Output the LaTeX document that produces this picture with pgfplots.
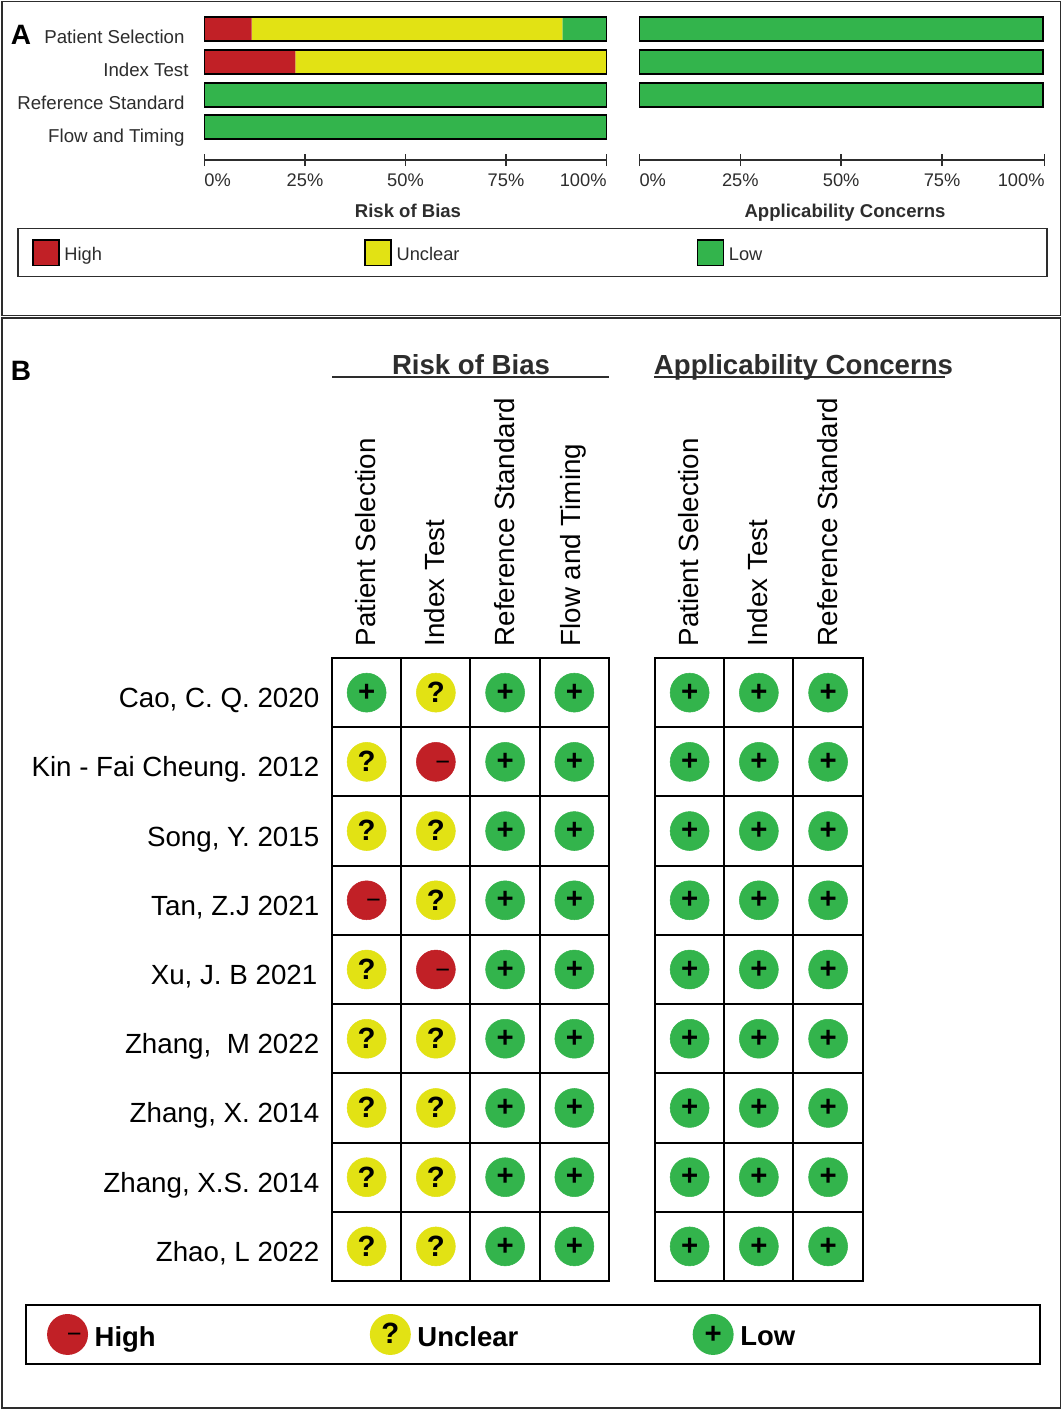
\documentclass[border=0pt]{standalone}
\usepackage{fontspec}
\setmainfont{Liberation Sans}
\usepackage{pgfplots}
\pgfplotsset{compat=1.18}
\definecolor{robred}{RGB}{193,32,38}
\definecolor{robyellow}{RGB}{226,226,20}
\definecolor{robgreen}{RGB}{51,180,76}
\definecolor{ink}{RGB}{45,45,45}
\def\px{0.75pt}
\newcommand{\fs}[1]{\fontsize{#1}{#1}\selectfont}

\pgfplotsset{
  summary/.style={
    scale only axis, width=301.5pt, height=110.25pt,
    xmin=0, xmax=100, ymin=-0.488, ymax=3.994, y dir=reverse,
    xbar stacked, bar width=18pt, clip=false,
    axis x line=bottom, axis y line=left,
    axis line style={-, draw=ink, line width=1.1pt},
    y axis line style={draw=none},
    xtick={0,25,50,75,100},
    xticklabels={\hphantom{0\%}0\%,25\%,50\%,75\%,100\%\hphantom{100\%}},
    xticklabel style={font=\fs{13.7}, text=ink, yshift=-2.5pt},
    major tick length=9pt,
    x tick style={draw=ink, line width=1.1pt},
    y tick style={draw=none},
    ytick={0,1,2,3},
  },
  outline/.style={
    scale only axis, width=301.5pt, height=110.25pt,
    xmin=0, xmax=100, ymin=-0.488, ymax=3.994, y dir=reverse,
    xbar, bar width=18pt, clip=false, hide axis,
  },
  swatch/.style={legend image code/.code={
    \draw[##1,draw=black,line width=1.1pt] (0pt,-8.75pt) rectangle (19.5pt,10.25pt);}},
  judge/.style={
    scale only axis, height=467.25pt,
    xmin=-0.5, ymin=-0.5, ymax=8.5, y dir=reverse, clip=false,
    axis line style={line width=1.5pt},
    xticklabel pos=right,
    xticklabel style={rotate=90, anchor=west, font=\fs{20.8}, xshift=5.25pt, yshift=0.75pt},
    yticklabel style={font=\fs{20.8}, text height=15pt, text depth=0pt, yshift=-3.75pt, xshift=-6pt},
    major tick length=0pt, minor tick length=0pt,
    tick style={draw=none},
    minor ytick={0.5,1.5,...,7.5},
    xminorgrids, yminorgrids,
    minor grid style={black, line width=1.5pt},
    ytick={0,...,8},
  },
  verdict/.style n args={3}{
    only marks, mark=*, mark size=14.6pt,
    color=#1, mark options={draw=none, fill=#1},
    nodes near coords={#2},
    every node near coord/.append style={anchor=center, text=black, #3},
  },
}

\begin{document}
\begin{tikzpicture}
\useasboundingbox (0,0) rectangle (1063*\px,-1410*\px);
\fill[white] (0,0) rectangle (1063*\px,-1410*\px);

% panel frames
\draw[ink, line width=1.3pt] (2*\px,-1.5*\px) rectangle (1060.5*\px,-315.5*\px);
\draw[ink, line width=1.3pt] (2*\px,-318*\px) rectangle (1060.5*\px,-1408*\px);
\node[anchor=center, font=\fs{21}\bfseries] at (21*\px,-35*\px) {A};
\node[anchor=center, font=\fs{21}\bfseries] at (21*\px,-371*\px) {B};

% A: risk of bias
\begin{axis}[summary, at={(204.5*\px,-160*\px)}, anchor=south west,
    yticklabels={Patient Selection,{Index Test\kern-3pt},Reference Standard,Flow and Timing},
    yticklabel style={font=\fs{14}, text=ink, text height=10pt, text depth=0pt, yshift=-6pt, xshift=-7pt},
    legend columns=3, legend cell align=left,
    legend style={at={(axis description cs:-0.4652,-0.4626)}, anchor=north west,
      draw=ink, line width=1.1pt, font=\fs{13.7}, text=ink,
      inner xsep=10.5pt, inner ysep=7.9pt, /tikz/every node/.append style={text=ink}}]
\addplot[swatch, fill=robred, draw=none] coordinates {(11.7,0) (22.6,1) (0,2) (0,3)};
\addlegendentry{\makebox[224.6pt][l]{\kern1.5pt\raisebox{-2pt}{High}}}
\addplot[swatch, fill=robyellow, draw=none] coordinates {(77.35,0) (77.4,1) (0,2) (0,3)};
\addlegendentry{\makebox[224.6pt][l]{\kern1.5pt\raisebox{-2pt}{Unclear}}}
\addplot[swatch, fill=robgreen, draw=none] coordinates {(10.95,0) (0,1) (100,2) (100,3)};
\addlegendentry{\makebox[227.7pt][l]{\kern1.5pt\raisebox{-2pt}{Low}}}
\end{axis}
\begin{axis}[outline, at={(204.5*\px,-160*\px)}, anchor=south west]
\addplot[fill=none, draw=black, line width=1.4pt] coordinates {(100,0) (100,1) (100,2) (100,3)};
\end{axis}
\node[anchor=base, font=\fs{13.9}\bfseries, text=ink] at (408*\px,-217*\px) {Risk of Bias};

% A: applicability
\begin{axis}[summary, at={(639.5*\px,-160*\px)}, anchor=south west,
    width=303.75pt, xmax=100.4, xtick={0,25,50,75,100.4},
    yticklabels={}]
\addplot[fill=robgreen, draw=none] coordinates {(100,0) (100,1) (100,2)};
\end{axis}
\begin{axis}[outline, at={(639.5*\px,-160*\px)}, anchor=south west,
    width=303.75pt, xmax=100.4]
\addplot[fill=none, draw=black, line width=1.4pt] coordinates {(100,0) (100,1) (100,2)};
\end{axis}
\node[anchor=base, font=\fs{13.9}\bfseries, text=ink] at (845*\px,-217*\px) {Applicability Concerns};

% B: headings
\node[anchor=base, font=\fs{20.7}\bfseries, text=ink] at (471*\px,-374.5*\px) {Risk of Bias};
\draw[ink, line width=1.4pt] (332*\px,-377*\px) -- (609*\px,-377*\px);
\node[anchor=base, font=\fs{20.7}\bfseries, text=ink] at (803.5*\px,-374.5*\px) {Applicability Concerns};
\draw[ink, line width=1.4pt] (654*\px,-377*\px) -- (945*\px,-377*\px);

% B: risk of bias judgements
\begin{axis}[judge, at={(332*\px,-1281*\px)}, anchor=south west,
    width=207.75pt, xmax=3.5,
    xtick={0,1,2,3}, minor xtick={0.5,1.5,2.5},
    xticklabels={Patient Selection,Index Test,Reference Standard,Flow and Timing},
    yticklabels={{Cao, C. Q. 2020},{Kin - Fai Cheung. 2012},{Song, Y. 2015},{Tan, Z.J 2021},{Xu, J. B 2021\kern1.5pt},{Zhang,\ \ M 2022},{Zhang, X. 2014},{Zhang, X.S. 2014},{Zhao, L 2022}},
    legend columns=3, legend cell align=left,
    legend style={at={(axis description cs:-1.108,-0.0369)}, anchor=north west,
      draw=black, line width=1.5pt, font=\fs{20.6}\bfseries,
      inner xsep=15.75pt, inner ysep=6.75pt}]
\addplot[verdict={robred}{−}{font=\fs{19}, xshift=5.25pt, yshift=-3pt},
    legend image code/.code={\fill[robred] (0pt,-0.75pt) circle (14.6pt);
      \node[anchor=center, text=black, font=\fs{19}\mdseries] at (5pt,-4pt) {−};}]
  coordinates {(1,1) (0,3) (1,4)};
\addlegendentry{\makebox[207.4pt][l]{\kern3pt\raisebox{-6pt}{High}}}
\addplot[verdict={robyellow}{?}{font=\fs{22}\bfseries, yshift=0.3pt},
    legend image code/.code={\fill[robyellow] (0pt,-0.75pt) circle (14.6pt);
      \node[anchor=center, text=black, font=\fs{22}\bfseries] at (0pt,-0.75pt) {?};}]
  coordinates {(1,0) (0,1) (0,2) (1,2) (1,3) (0,4) (0,5) (1,5) (0,6) (1,6) (0,7) (1,7) (0,8) (1,8)};
\addlegendentry{\makebox[207.4pt][l]{\kern3pt\raisebox{-6pt}{Unclear}}}
\addplot[verdict={robgreen}{+}{font=\fs{22}\bfseries},
    legend image code/.code={\fill[robgreen] (0pt,-0.75pt) circle (14.6pt);
      \node[anchor=center, text=black, font=\fs{22}\bfseries] at (0pt,-1.5pt) {+};}]
  coordinates {(0,0) (2,0) (3,0) (2,1) (3,1) (2,2) (3,2) (2,3) (3,3) (2,4) (3,4) (2,5) (3,5) (2,6) (3,6) (2,7) (3,7) (2,8) (3,8)};
\addlegendentry{\makebox[210pt][l]{\kern3pt\raisebox{-6pt}{Low}}}
\end{axis}

% B: applicability judgements
\begin{axis}[judge, at={(655*\px,-1281*\px)}, anchor=south west,
    width=155.8pt, xmax=2.5,
    xtick={0,1,2}, minor xtick={0.5,1.5},
    xticklabels={Patient Selection,Index Test,Reference Standard},
    yticklabels={}]
\addplot[verdict={robgreen}{+}{font=\fs{22}\bfseries}]
  coordinates {(0,0) (1,0) (2,0) (0,1) (1,1) (2,1) (0,2) (1,2) (2,2) (0,3) (1,3) (2,3) (0,4) (1,4) (2,4) (0,5) (1,5) (2,5) (0,6) (1,6) (2,6) (0,7) (1,7) (2,7) (0,8) (1,8) (2,8)};
\end{axis}
\end{tikzpicture}
\end{document}
